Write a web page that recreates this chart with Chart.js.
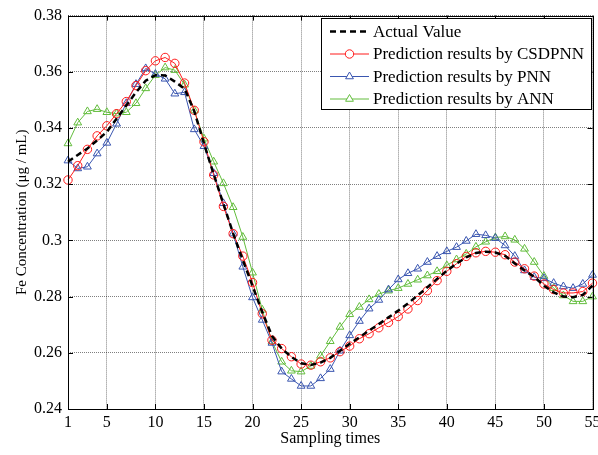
<!DOCTYPE html>
<html>
<head>
<meta charset="utf-8">
<script src="https://cdn.jsdelivr.net/npm/chart.js@4.4.1/dist/chart.umd.min.js"></script>
<style>
  html, body { margin: 0; padding: 0; background: #fff; }
  #wrap { width: 598px; height: 455px; }
</style>
</head>
<body>
<div id="wrap"><canvas id="myChart" width="598" height="455"></canvas></div>
<script>
// sampling index
const samples = [1,2,3,4,5,6,7,8,9,10,11,12,13,14,15,16,17,18,19,20,21,22,23,24,25,26,27,28,29,30,
  31,32,33,34,35,36,37,38,39,40,41,42,43,44,45,46,47,48,49,50,51,52,53,54,55];
const xTicks = [1, 5, 10, 15, 20, 25, 30, 35, 40, 45, 50, 55];
const yTicks = [0.24, 0.26, 0.28, 0.3, 0.32, 0.34, 0.36, 0.38];

// values
const actualValue = [0.3280, 0.3304, 0.3327, 0.3356, 0.3386, 0.3433, 0.3480, 0.3527, 0.3568, 0.3588,
  0.3587, 0.3565, 0.3540, 0.3460, 0.3345, 0.3235, 0.3130, 0.3025, 0.2930, 0.2838,
  0.2745, 0.2660, 0.2615, 0.2585, 0.2563, 0.2557, 0.2565, 0.2582, 0.2607, 0.2632,
  0.2655, 0.2679, 0.2702, 0.2726, 0.2750, 0.2776, 0.2804, 0.2833, 0.2863, 0.2892,
  0.2917, 0.2940, 0.2955, 0.2960, 0.2957, 0.2945, 0.2918, 0.2893, 0.2870, 0.2839,
  0.2815, 0.2800, 0.2798, 0.2806, 0.2839];
const csdpnn = [0.3215, 0.3266, 0.3324, 0.3372, 0.3408, 0.3451, 0.3494, 0.3551, 0.3604, 0.3639,
  0.3651, 0.3630, 0.3560, 0.3463, 0.3351, 0.3233, 0.3121, 0.3024, 0.2944, 0.2850,
  0.2739, 0.2645, 0.2615, 0.2586, 0.2560, 0.2556, 0.2568, 0.2582, 0.2604, 0.2624,
  0.2650, 0.2668, 0.2689, 0.2708, 0.2729, 0.2756, 0.2786, 0.2821, 0.2857, 0.2890,
  0.2917, 0.2943, 0.2956, 0.2961, 0.2958, 0.2949, 0.2923, 0.2899, 0.2873, 0.2845,
  0.2825, 0.2813, 0.2813, 0.2818, 0.2848];
const pnn = [0.3284, 0.3256, 0.3262, 0.3309, 0.3347, 0.3415, 0.3488, 0.3556, 0.3612, 0.3592,
  0.3575, 0.3522, 0.3527, 0.3395, 0.3335, 0.3239, 0.3132, 0.3024, 0.2906, 0.2797,
  0.2717, 0.2635, 0.2533, 0.2507, 0.2482, 0.2482, 0.2509, 0.2542, 0.2607, 0.2662,
  0.2713, 0.2757, 0.2788, 0.2825, 0.2861, 0.2883, 0.2899, 0.2923, 0.2944, 0.2961,
  0.2976, 0.2998, 0.3022, 0.3018, 0.3008, 0.2982, 0.2944, 0.2893, 0.2869, 0.2865,
  0.2848, 0.2836, 0.2830, 0.2845, 0.2877];
const ann = [0.3345, 0.3419, 0.3459, 0.3467, 0.3456, 0.3451, 0.3456, 0.3488, 0.3541, 0.3588,
  0.3615, 0.3606, 0.3554, 0.3462, 0.3362, 0.3280, 0.3203, 0.3118, 0.3012, 0.2885,
  0.2753, 0.2640, 0.2568, 0.2536, 0.2533, 0.2553, 0.2589, 0.2641, 0.2692, 0.2737,
  0.2763, 0.2790, 0.2809, 0.2821, 0.2830, 0.2845, 0.2860, 0.2875, 0.2890, 0.2911,
  0.2932, 0.2952, 0.2977, 0.2995, 0.3010, 0.3014, 0.3002, 0.2970, 0.2923, 0.2873,
  0.2830, 0.2804, 0.2783, 0.2783, 0.2800];

const seriesNames = ['Actual Value', 'Prediction results by CSDPNN', 'Prediction results by PNN', 'Prediction results by ANN'];

const FONT = 'Liberation Serif';

function pts(vals) {
    return samples.map((s, i) => ({ x: s, y: vals[i] }));
}

// frame with inward tick marks, like matlab axes
const framePlugin = {
    id: 'frame',
    afterDatasetsDraw(chart) {
        const { ctx, chartArea: a, scales } = chart;
        ctx.save();
        ctx.strokeStyle = '#000';
        ctx.lineWidth = 1;
        ctx.strokeRect(Math.round(a.left) + 0.5, Math.round(a.top) + 0.5,
            Math.round(a.right - a.left), Math.round(a.bottom - a.top));
        ctx.beginPath();
        xTicks.forEach(t => {
            const x = Math.round(scales.x.getPixelForValue(t)) + 0.5;
            ctx.moveTo(x, a.bottom); ctx.lineTo(x, a.bottom - 5);
            ctx.moveTo(x, a.top); ctx.lineTo(x, a.top + 5);
        });
        yTicks.forEach(t => {
            const y = Math.round(scales.y.getPixelForValue(t)) + 0.5;
            ctx.moveTo(a.left, y); ctx.lineTo(a.left + 5, y);
            ctx.moveTo(a.right, y); ctx.lineTo(a.right - 5, y);
        });
        ctx.stroke();
        ctx.restore();
    }
};

// legend box inside the plot, top right
const legendPlugin = {
    id: 'boxLegend',
    afterDraw(chart) {
        const ctx = chart.ctx;
        const bx = 321.5, by = 18.5, bw = 270, bh = 91;
        ctx.save();
        ctx.fillStyle = '#fff';
        ctx.fillRect(bx, by, bw, bh);
        ctx.strokeStyle = '#000';
        ctx.lineWidth = 1;
        ctx.strokeRect(bx, by, bw, bh);
        const rows = [31.5, 54, 76.5, 99];
        chart.data.datasets.forEach((ds, i) => {
            const y = rows[i];
            ctx.save();
            ctx.strokeStyle = ds.borderColor;
            ctx.lineWidth = ds.borderWidth;
            ctx.setLineDash(ds.borderDash || []);
            ctx.beginPath();
            ctx.moveTo(330, y); ctx.lineTo(369, y);
            ctx.stroke();
            ctx.restore();
            if (ds.pointRadius > 0) {
                ctx.save();
                ctx.fillStyle = '#fff';
                ctx.strokeStyle = ds.borderColor;
                ctx.lineWidth = ds.pointBorderWidth;
                Chart.helpers.drawPoint(ctx, {
                    pointStyle: ds.pointStyle, radius: ds.pointRadius, rotation: 0,
                    borderWidth: ds.pointBorderWidth
                }, 349.5, y);
                ctx.restore();
            }
            ctx.fillStyle = '#000';
            ctx.font = '17px "' + FONT + '"';
            ctx.textBaseline = 'middle';
            ctx.textAlign = 'left';
            ctx.fillText(seriesNames[i], 373, y + 1);
        });
        ctx.restore();
    }
};

var ctx = document.getElementById('myChart').getContext('2d');
var myChart = new Chart(ctx, {
    type: 'line',
    data: {
        datasets: [
            {
                label: seriesNames[0],
                data: pts(actualValue),
                borderColor: '#000000',
                borderWidth: 2.5,
                borderDash: [6, 4],
                pointRadius: 0,
                pointBorderWidth: 1
            },
            {
                label: seriesNames[1],
                data: pts(csdpnn),
                borderColor: '#ff1a1a',
                borderWidth: 1,
                pointStyle: 'circle',
                pointRadius: 4.2,
                pointBorderWidth: 1,
                pointBackgroundColor: 'rgba(0,0,0,0)',
                pointBorderColor: '#ff1a1a'
            },
            {
                label: seriesNames[2],
                data: pts(pnn),
                borderColor: '#3a56b0',
                borderWidth: 1,
                pointStyle: 'triangle',
                pointRadius: 4.5,
                pointBorderWidth: 1,
                pointBackgroundColor: 'rgba(0,0,0,0)',
                pointBorderColor: '#3a56b0'
            },
            {
                label: seriesNames[3],
                data: pts(ann),
                borderColor: '#62bd3c',
                borderWidth: 1,
                pointStyle: 'triangle',
                pointRadius: 4.5,
                pointBorderWidth: 1,
                pointBackgroundColor: 'rgba(0,0,0,0)',
                pointBorderColor: '#62bd3c'
            }
        ]
    },
    options: {
        responsive: false,
        animation: false,
        clip: false,
        layout: { padding: { top: 13, right: 4, left: 0, bottom: 0 } },
        plugins: {
            legend: { display: false },
            tooltip: { enabled: false }
        },
        elements: { line: { tension: 0 } },
        scales: {
            x: {
                type: 'linear',
                min: 1,
                max: 55,
                afterBuildTicks: (scale) => { scale.ticks = xTicks.map(v => ({ value: v })); },
                afterFit: (scale) => { scale.height = 46; scale.paddingLeft = 0; scale.paddingRight = 0; },
                ticks: {
                    autoSkip: false,
                    maxRotation: 0,
                    padding: 4,
                    color: '#000',
                    font: { family: FONT, size: 16 },
                    callback: (v) => String(v)
                },
                grid: {
                    color: 'rgba(0,0,0,0.5)',
                    drawTicks: false
                },
                border: { display: false, dash: [1, 1] },
                title: {
                    display: true,
                    text: 'Sampling times',
                    color: '#000',
                    font: { family: FONT, size: 16 },
                    padding: { top: 0, bottom: 7 }
                }
            },
            y: {
                min: 0.24,
                max: 0.38,
                afterBuildTicks: (scale) => { scale.ticks = yTicks.map(v => ({ value: v })); },
                afterFit: (scale) => { scale.width = 68; },
                ticks: {
                    padding: 6,
                    color: '#000',
                    font: { family: FONT, size: 16 },
                    callback: (v) => String(Math.round(v * 100) / 100)
                },
                grid: {
                    color: 'rgba(0,0,0,0.5)',
                    drawTicks: false
                },
                border: { display: false, dash: [1, 1] },
                title: {
                    display: true,
                    text: 'Fe Concentration (μg / mL)',
                    color: '#000',
                    font: { family: FONT, size: 15 },
                    padding: { top: 13, bottom: 0 }
                }
            }
        }
    },
    plugins: [framePlugin, legendPlugin]
});
</script>
</body>
</html>
